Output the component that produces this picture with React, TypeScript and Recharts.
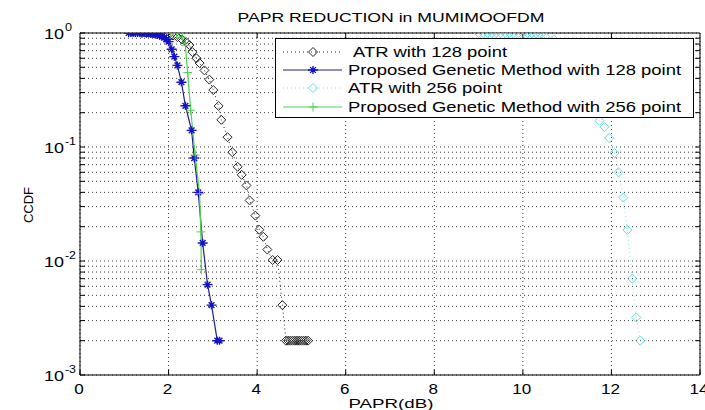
import React from 'react';
import { LineChart, Line, XAxis, YAxis, CartesianGrid, ReferenceLine, Legend } from 'recharts';

// ---- data ----
const atr128X = [1.4, 1.5, 1.6, 1.7, 1.8, 1.9, 2.0, 2.1, 2.2, 2.3, 2.4, 2.47, 2.54, 2.63, 2.7, 2.81, 2.92, 3.01, 3.13, 3.19, 3.33, 3.44, 3.56, 3.65, 3.76, 3.83, 3.96, 4.05, 4.14, 4.23, 4.35, 4.46, 4.57, 4.65, 4.7, 4.75, 4.8, 4.85, 4.9, 4.95, 5.0, 5.05, 5.1, 5.15];
const atr128Y = [1, 1, 1, 0.995, 0.99, 0.98, 0.97, 0.95, 0.92, 0.88, 0.83, 0.785, 0.68, 0.6, 0.545, 0.47, 0.39, 0.316, 0.229, 0.173, 0.122, 0.09, 0.067, 0.057, 0.046, 0.034, 0.025, 0.0188, 0.0163, 0.0126, 0.0102, 0.0102, 0.0041, 0.002, 0.002, 0.002, 0.002, 0.002, 0.002, 0.002, 0.002, 0.002, 0.002, 0.002];

const gen128X = [1.1, 1.15, 1.2, 1.25, 1.3, 1.35, 1.4, 1.45, 1.5, 1.55, 1.6, 1.65, 1.7, 1.75, 1.8, 1.85, 1.9, 1.95, 2.0, 2.07, 2.13, 2.2, 2.29, 2.38, 2.52, 2.58, 2.67, 2.77, 2.88, 2.97, 3.1, 3.15];
const gen128Y = [1, 1, 1, 1, 1, 1, 1, 0.998, 0.995, 0.99, 0.985, 0.98, 0.97, 0.96, 0.95, 0.93, 0.91, 0.88, 0.84, 0.72, 0.62, 0.52, 0.37, 0.23, 0.14, 0.08, 0.04, 0.0144, 0.0062, 0.0041, 0.002, 0.002];

const atr256X = [9.0, 9.1, 9.2, 9.3, 9.4, 9.5, 9.6, 9.7, 9.8, 9.9, 10.0, 10.1, 10.2, 10.3, 10.4, 10.5, 10.7, 10.9, 11.1, 11.3, 11.5, 11.73, 11.84, 11.95, 12.07, 12.16, 12.27, 12.36, 12.47, 12.56, 12.65];
const atr256Y = [1, 1, 1, 1, 1, 1, 1, 1, 1, 1, 1, 0.998, 0.995, 0.99, 0.97, 0.93, 0.88, 0.8, 0.65, 0.45, 0.28, 0.17, 0.15, 0.12, 0.0886, 0.06, 0.036, 0.0187, 0.007, 0.0032, 0.002];

const gen256X = [2.05, 2.18, 2.31, 2.38, 2.43, 2.5, 2.6, 2.7, 2.73, 2.74];
const gen256Y = [1, 1, 0.92, 0.78, 0.45, 0.21, 0.085, 0.039, 0.018, 0.0084];

const seriesNames = [
  'ATR with 128 point',
  'Proposed Genetic Method with 128 point',
  'ATR with 256 point',
  'Proposed Genetic Method with 256 point',
];

const xTicks = [0, 2, 4, 6, 8, 10, 12, 14];
const yDecades = [-3, -2, -1];
const yMantissas = [1, 2, 3, 4, 5, 6, 7, 8, 9];

const chartTitle = 'PAPR REDUCTION in MUMIMOOFDM';
const xLabel = 'PAPR(dB)';
const yLabel = 'CCDF';

// ---- helpers ----
const toPoints = (xs: number[], ys: number[]) => xs.map((x, i) => ({ x, y: ys[i] }));
const atr128 = toPoints(atr128X, atr128Y);
const gen128 = toPoints(gen128X, gen128Y);
const atr256 = toPoints(atr256X, atr256Y);
const gen256 = toPoints(gen256X, gen256Y);

const yTicks: number[] = [];
yDecades.forEach((d) => yMantissas.forEach((m) => yTicks.push(Number((m * Math.pow(10, d)).toPrecision(3)))));
yTicks.push(1);

const FONT = 'Liberation Sans, Arial, sans-serif';

const C_BLACK = '#222222';
const C_NAVY = '#1f1f8a';
const C_STAR = '#1212c8';
const C_CYAN = '#5fdde0';
const C_CYAN_LINE = '#8fe6e8';
const C_GREEN = '#4fd24f';

const diamondPath = (cx: number, cy: number, r: number) =>
  `M${cx},${cy - r}L${cx + r},${cy}L${cx},${cy + r}L${cx - r},${cy}Z`;
const starPath = (cx: number, cy: number, r: number) => {
  const d = r * 0.72;
  return `M${cx - r - 1},${cy}L${cx + r + 1},${cy}M${cx},${cy - r}L${cx},${cy + r}M${cx - d},${cy - d}L${cx + d},${cy + d}M${cx - d},${cy + d}L${cx + d},${cy - d}`;
};
const plusPath = (cx: number, cy: number, r: number) => `M${cx - r},${cy}L${cx + r},${cy}M${cx},${cy - r}L${cx},${cy + r}`;

const makeDot = (kind: string, color: string) => (props: any) => {
  const { cx, cy, index } = props;
  if (cx == null || cy == null || isNaN(cx) || isNaN(cy)) return <g key={`e${index}`} />;
  let d = '';
  if (kind === 'diamond') d = diamondPath(cx, cy, 4.5);
  else if (kind === 'star') d = starPath(cx, cy, 4);
  else d = plusPath(cx, cy, 4.5);
  return <path key={`d${index}`} d={d} fill="none" stroke={color} strokeWidth={kind === 'star' ? 1.4 : 1} />;
};

const YTick = (props: any) => {
  const { x, y, payload } = props;
  const v = payload.value as number;
  const e = Math.round(Math.log10(v));
  if (Math.abs(v / Math.pow(10, e) - 1) > 1e-6) return <g />;
  const sup = String(e);
  return (
    <g>
      <text x={x - 21} y={y + 6} textAnchor="end" fontSize={14} fontFamily={FONT} fill="#000" textLength={20} lengthAdjust="spacingAndGlyphs">
        10
      </text>
      <text x={x - 20} y={y - 2} fontSize={10} fontFamily={FONT} fill="#000" textLength={sup.length === 1 ? 7 : 11} lengthAdjust="spacingAndGlyphs">
        {sup}
      </text>
    </g>
  );
};

const XTick = (props: any) => {
  const { x, y, payload } = props;
  return (
    <text x={x - 1} y={y + 24} textAnchor="middle" fontSize={14} fontFamily={FONT} fill="#000" textLength={String(payload.value).length * 9.5} lengthAdjust="spacingAndGlyphs">
      {payload.value}
    </text>
  );
};

const legendStyles = [
  { kind: 'diamond', color: C_BLACK, line: C_BLACK, dash: '1 3', tx: 78, len: 154 },
  { kind: 'star', color: C_STAR, line: C_NAVY, dash: undefined, tx: 73, len: 333 },
  { kind: 'diamond', color: C_CYAN, line: C_CYAN_LINE, dash: '1 3', tx: 73, len: 154 },
  { kind: 'plus', color: C_GREEN, line: C_GREEN, dash: undefined, tx: 73, len: 333 },
];
const legendRowY = [14, 32, 50, 69];

const renderLegend = () => (
  <svg width={419} height={80} style={{ display: 'block' }}>
    <rect x={0.5} y={0.5} width={418} height={79} fill="#fff" stroke="#000" strokeWidth={1} />
    {seriesNames.map((name, i) => {
      const s = legendStyles[i];
      const cy = legendRowY[i];
      let d = '';
      if (s.kind === 'diamond') d = diamondPath(38, cy, 4.5);
      else if (s.kind === 'star') d = starPath(38, cy, 4);
      else d = plusPath(38, cy, 4.5);
      return (
        <g key={name}>
          <line x1={8} x2={67} y1={cy} y2={cy} stroke={s.line} strokeWidth={1} strokeDasharray={s.dash} />
          <path d={d} fill="none" stroke={s.color} strokeWidth={s.kind === 'star' ? 1.4 : 1} />
          <text x={s.tx} y={cy + 5} fontSize={14} fontFamily={FONT} fill="#000" textLength={s.len} lengthAdjust="spacingAndGlyphs">
            {name}
          </text>
        </g>
      );
    })}
  </svg>
);

export default function App() {
  return (
    <div style={{ position: 'absolute', left: 0, top: 0, background: '#fff' }}>
      <LineChart width={705} height={410} margin={{ top: 33, right: 5, bottom: 5, left: 20 }}>
        <CartesianGrid stroke="#3a3a3a" strokeDasharray="1 3" strokeWidth={1} />
        <XAxis
          dataKey="x"
          type="number"
          domain={[0, 14]}
          ticks={xTicks}
          interval={0}
          allowDataOverflow
          height={30}
          tickSize={-5}
          tickMargin={0}
          tick={<XTick />}
          axisLine={{ stroke: '#000' }}
          tickLine={{ stroke: '#000' }}
        />
        <YAxis
          dataKey="y"
          type="number"
          scale="log"
          domain={[0.001, 1]}
          ticks={yTicks}
          interval={0}
          allowDataOverflow
          width={60}
          tickSize={-5}
          tickMargin={0}
          tick={<YTick />}
          axisLine={{ stroke: '#000' }}
          tickLine={{ stroke: '#000' }}
        />
        <ReferenceLine y={1} stroke="#000" strokeWidth={1} />
        <ReferenceLine x={14} stroke="#000" strokeWidth={1} />
        {xTicks.slice(1, -1).map((v) => (
          <ReferenceLine key={`tt${v}`} segment={[{ x: v, y: 1 }, { x: v, y: 0.9 }]} stroke="#000" />
        ))}
        {yTicks.slice(1, -1).map((v) => (
          <ReferenceLine key={`rt${v}`} segment={[{ x: 14, y: v }, { x: 13.89, y: v }]} stroke="#000" />
        ))}
        <Line
          data={atr128}
          dataKey="y"
          name={seriesNames[0]}
          stroke={C_BLACK}
          strokeWidth={1}
          strokeDasharray="1 3"
          dot={makeDot('diamond', C_BLACK)}
          isAnimationActive={false}
        />
        <Line
          data={gen128}
          dataKey="y"
          name={seriesNames[1]}
          stroke={C_NAVY}
          strokeWidth={1.2}
          dot={makeDot('star', C_STAR)}
          isAnimationActive={false}
        />
        <Line
          data={atr256}
          dataKey="y"
          name={seriesNames[2]}
          stroke={C_CYAN_LINE}
          strokeWidth={1}
          strokeDasharray="1 3"
          dot={makeDot('diamond', C_CYAN)}
          isAnimationActive={false}
        />
        <Line
          data={gen256}
          dataKey="y"
          name={seriesNames[3]}
          stroke={C_GREEN}
          strokeWidth={1.2}
          dot={makeDot('plus', C_GREEN)}
          isAnimationActive={false}
        />
        <Legend
          layout="horizontal"
          verticalAlign="middle"
          align="center"
          content={renderLegend}
          wrapperStyle={{ left: 275, top: 38, width: 419, height: 80, margin: 0, padding: 0 }}
        />
        <text x={391} y={22} textAnchor="middle" fontSize={13} fontFamily={FONT} fill="#000" textLength={307} lengthAdjust="spacingAndGlyphs">
          {chartTitle}
        </text>
        <text x={391} y={408} textAnchor="middle" fontSize={13} fontFamily={FONT} fill="#000" textLength={85} lengthAdjust="spacingAndGlyphs">
          {xLabel}
        </text>
        <text x={0} y={0} transform="translate(33,205) rotate(-90)" textAnchor="middle" fontSize={13} fontFamily={FONT} fill="#000">
          {yLabel}
        </text>
      </LineChart>
    </div>
  );
}
